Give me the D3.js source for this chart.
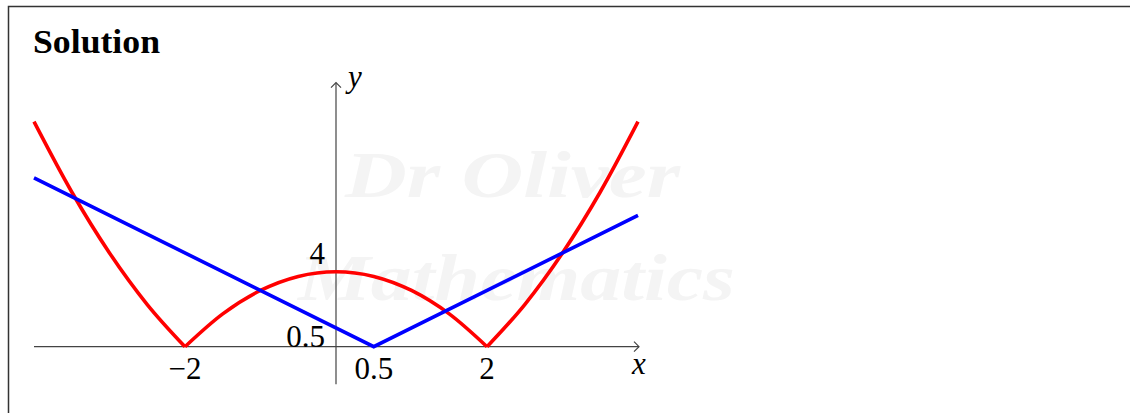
<!DOCTYPE html>
<html>
<head>
<meta charset="utf-8">
<script src="https://cdn.jsdelivr.net/npm/d3@7"></script>
<style>
  body { margin: 0; background: #fff; }
  svg text { font-family: "Liberation Serif", "DejaVu Serif", serif; }
</style>
</head>
<body>
<div id="chart"></div>
<script>
// values: |x^2 - 4| (red) and |2x - 1| (blue)
const redX = [-4, -3.5, -3, -2.5, -2, -1.5, -1, -0.5, 0, 0.5, 1, 1.5, 2, 2.5, 3, 3.5, 4];
const redY = [12, 8.25, 5, 2.25, 0, 1.75, 3, 3.75, 4, 3.75, 3, 1.75, 0, 2.25, 5, 8.25, 12];
const blueX = [-4, 0.5, 4];
const blueY = [9, 0, 7];
const xTicks = [-2, 0.5, 2];
const xTickLabels = ["\u22122", "0.5", "2"];
const yTicks = [0.5, 4];
const yTickLabels = ["0.5", "4"];

const width = 1131, height = 413;

const svg = d3.select("#chart").append("svg")
    .attr("width", width)
    .attr("height", height);

// frame
svg.append("path")
    .attr("d", "M8.5,420 V6.5 H1130")
    .attr("fill", "none")
    .attr("stroke", "#333")
    .attr("stroke-width", 1.5);

svg.append("text")
    .attr("x", 33)
    .attr("y", 53)
    .attr("font-weight", "bold")
    .attr("font-size", 33)
    .attr("textLength", 127)
    .attr("lengthAdjust", "spacingAndGlyphs")
    .text("Solution");

// watermark
const wm = svg.append("g")
    .attr("fill", "#f4f4f4")
    .attr("font-style", "italic")
    .attr("font-weight", "bold")
    .style("font-family", "'DejaVu Serif', serif");
wm.append("text").attr("x", 345).attr("y", 197).attr("font-size", 66)
    .attr("textLength", 335).attr("lengthAdjust", "spacingAndGlyphs").text("Dr Oliver");
wm.append("text").attr("x", 298).attr("y", 300).attr("font-size", 66)
    .attr("textLength", 437).attr("lengthAdjust", "spacingAndGlyphs").text("Mathematics");

// scales
const x = d3.scaleLinear().domain([-4, 4]).range([34, 638]);
const y = d3.scaleLinear().domain([-2, 14]).range([384.2, 84.2]);

// axes
const axisColor = "#444";
svg.append("line")
    .attr("x1", x(-4)).attr("x2", x(4) + 1)
    .attr("y1", y(0)).attr("y2", y(0))
    .attr("stroke", axisColor).attr("stroke-width", 1.2);
svg.append("line")
    .attr("x1", x(0)).attr("x2", x(0))
    .attr("y1", y(-2)).attr("y2", y(14) - 1.5)
    .attr("stroke", axisColor).attr("stroke-width", 1.2);

// arrow heads
svg.append("path")
    .attr("d", `M${x(4) - 4},${y(0) - 5} L${x(4) + 1},${y(0)} L${x(4) - 4},${y(0) + 5}`)
    .attr("fill", "none").attr("stroke", axisColor).attr("stroke-width", 1.2);
svg.append("path")
    .attr("d", `M${x(0) - 5},${y(14) + 3.5} L${x(0)},${y(14) - 1.5} L${x(0) + 5},${y(14) + 3.5}`)
    .attr("fill", "none").attr("stroke", axisColor).attr("stroke-width", 1.2);

svg.append("text")
    .attr("x", x(4) + 1).attr("y", y(0) + 27)
    .attr("text-anchor", "middle")
    .attr("font-style", "italic").attr("font-size", 31)
    .text("x");
svg.append("text")
    .attr("x", x(0) + 12).attr("y", y(14) + 3)
    .attr("font-style", "italic").attr("font-size", 31)
    .text("y");

// tick labels
svg.selectAll(".xlab")
    .data(xTicks)
    .enter().append("text")
    .attr("class", "xlab")
    .attr("x", d => x(d))
    .attr("y", y(0) + 32)
    .attr("text-anchor", "middle")
    .attr("font-size", 31)
    .text((d, i) => xTickLabels[i]);

svg.selectAll(".ylab")
    .data(yTicks)
    .enter().append("text")
    .attr("class", "ylab")
    .attr("x", x(0) - 11)
    .attr("y", d => d === 4 ? y(d) - 8 : y(d) + 10)
    .attr("text-anchor", "end")
    .attr("font-size", 31)
    .text((d, i) => yTickLabels[i]);

// red curve, split at its corners so the V shapes stay sharp
const redPts = redX.map((d, i) => [d, redY[i]]);
const pieces = [];
let cur = [];
redPts.forEach(p => {
    cur.push(p);
    if (p[1] === 0 && cur.length > 1) {
        pieces.push(cur);
        cur = [p];
    }
});
if (cur.length > 1) pieces.push(cur);

const curve = d3.line()
    .x(d => x(d[0]))
    .y(d => y(d[1]))
    .curve(d3.curveMonotoneX);

svg.append("path")
    .attr("d", pieces.map(p => curve(p)).join(""))
    .attr("fill", "none")
    .attr("stroke", "#ff0000")
    .attr("stroke-width", 3.6)
    .attr("stroke-linejoin", "round");

const straight = d3.line()
    .x(d => x(d[0]))
    .y(d => y(d[1]));

svg.append("path")
    .attr("d", straight(blueX.map((d, i) => [d, blueY[i]])))
    .attr("fill", "none")
    .attr("stroke", "#0000ff")
    .attr("stroke-width", 3.6);
</script>
</body>
</html>
